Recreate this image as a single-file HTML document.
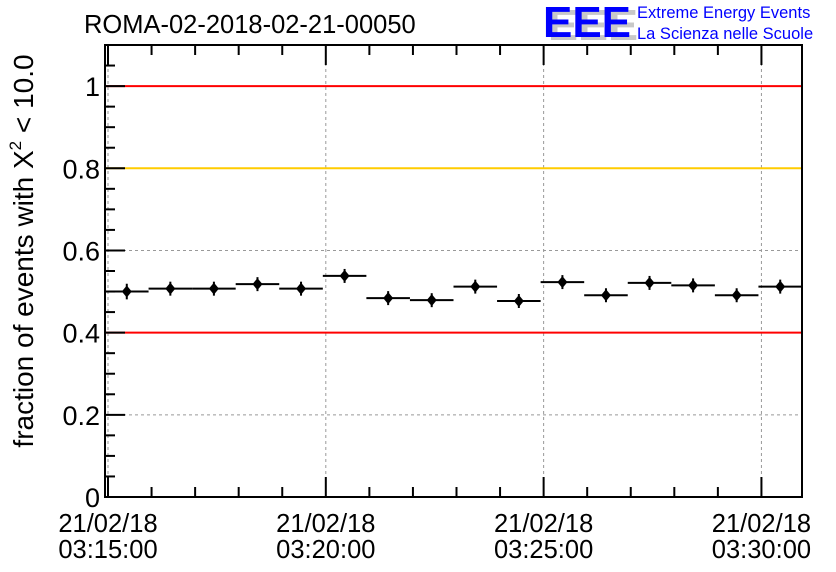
<!DOCTYPE html>
<html><head><meta charset="utf-8"><style>
body{margin:0;background:#fff;}
svg{display:block;font-family:"Liberation Sans",sans-serif;}
</style></head><body>
<svg id="c" width="836" height="572" xmlns="http://www.w3.org/2000/svg">
<text x="84" y="33" font-size="25.5" fill="#000">ROMA-02-2018-02-21-00050</text>
<g>
<text x="548" y="40" font-size="44" font-weight="bold" fill="#c8c8c8" textLength="90" lengthAdjust="spacingAndGlyphs">EEE</text>
<text x="543" y="37" font-size="44" font-weight="bold" fill="#0000ff" textLength="88" lengthAdjust="spacingAndGlyphs">EEE</text>
<text x="637" y="18" font-size="16.5" fill="#0000ff">Extreme Energy Events</text>
<text x="637" y="39" font-size="16.5" fill="#0000ff">La Scienza nelle Scuole</text>
</g>
<text transform="translate(33,251) rotate(-90)" text-anchor="middle" font-size="28" fill="#000">fraction of events with X<tspan dy="-12" font-size="17">2</tspan><tspan dy="12"> &lt; 10.0</tspan></text>
<g id="plot"></g>
</svg>
<script>
const binValues=[0.500,0.507,0.507,0.518,0.507,0.538,0.484,0.479,0.512,0.477,0.523,0.491,0.521,0.515,0.491,0.512];
const binErrors=[0.019,0.017,0.017,0.017,0.017,0.017,0.017,0.017,0.017,0.017,0.017,0.017,0.017,0.017,0.017,0.017];
const yTicks=[0,0.2,0.4,0.6,0.8,1];
const yTickLabels=["0","0.2","0.4","0.6","0.8","1"];
const xTickMinutes=[0,5,10,15];
const xTickDates=["21/02/18","21/02/18","21/02/18","21/02/18"];
const xTickTimes=["03:15:00","03:20:00","03:25:00","03:30:00"];
const refLines=[1.0,0.8,0.4];
const refColors=["#ff0000","#ffcc00","#ff0000"];
const L=105,R=802,T=45,B=497,YMAX=1.1;
const xStart=-0.0688;
const nBins=binValues.length;
const minPerPx=nBins/(R-L);
const xs=m=>L+(m-xStart)/minPerPx;
const ys=v=>B-v/YMAX*(B-T);
const NS="http://www.w3.org/2000/svg";
const g=document.getElementById('plot');
function mk(t,a){const e=document.createElementNS(NS,t);for(const k in a)e.setAttribute(k,a[k]);g.appendChild(e);return e;}
yTicks.forEach(v=>{if(v>0){const e=mk('line',{x1:L,x2:R,y1:ys(v),y2:ys(v),stroke:'#999','stroke-dasharray':'3,3','stroke-width':1});

}});
xTickMinutes.forEach(m=>{const e=mk('line',{x1:xs(m),x2:xs(m),y1:T,y2:B,stroke:'#999','stroke-dasharray':'3,3','stroke-width':1});

});
refLines.forEach((v,i)=>{const e=mk('line',{x1:L,x2:R,y1:ys(v),y2:ys(v),stroke:refColors[i],'stroke-width':2});

});
const fr=mk('rect',{x:L,y:T,width:R-L,height:B-T,fill:'none',stroke:'#000','stroke-width':2});


for(let v=0;v<=1.1001;v+=0.05){const maj=Math.abs(v*5-Math.round(v*5))<1e-6;const len=maj?20:10;
mk('line',{x1:L,x2:L+len,y1:ys(v),y2:ys(v),stroke:'#000','stroke-width':2});}
yTicks.forEach((v,i)=>{const t=mk('text',{x:L-5,y:ys(v)+10,'text-anchor':'end','font-size':27,fill:'#000'});t.textContent=yTickLabels[i];

});
for(let m=0;m<=16;m++){const x=xs(m);if(x<L||x>R)continue;const len=m%5===0?20:10;
mk('line',{x1:x,x2:x,y1:B,y2:B-len,stroke:'#000','stroke-width':2});
mk('line',{x1:x,x2:x,y1:T,y2:T+len,stroke:'#000','stroke-width':2});}
xTickMinutes.forEach((m,i)=>{const t1=mk('text',{x:xs(m),y:532,'text-anchor':'middle','font-size':25.5,fill:'#000'});t1.textContent=xTickDates[i];


const t2=mk('text',{x:xs(m),y:558,'text-anchor':'middle','font-size':25.5,fill:'#000'});t2.textContent=xTickTimes[i];

});
binValues.forEach((v,i)=>{const x0=xs(xStart+i),x1=xs(xStart+i+1),xc=(x0+x1)/2,y=ys(v);
const gr=document.createElementNS(NS,'g');g.appendChild(gr);


const add=(t,a)=>{const e=document.createElementNS(NS,t);for(const k in a)e.setAttribute(k,a[k]);gr.appendChild(e);};
add('line',{x1:x0,x2:x1,y1:y,y2:y,stroke:'#000','stroke-width':2});
add('line',{x1:xc,x2:xc,y1:ys(v+binErrors[i]),y2:ys(v-binErrors[i]),stroke:'#000','stroke-width':2});
add('path',{d:`M${xc} ${y-6}L${xc+5} ${y}L${xc} ${y+6}L${xc-5} ${y}Z`,fill:'#000'});
});
</script>
</body></html>
